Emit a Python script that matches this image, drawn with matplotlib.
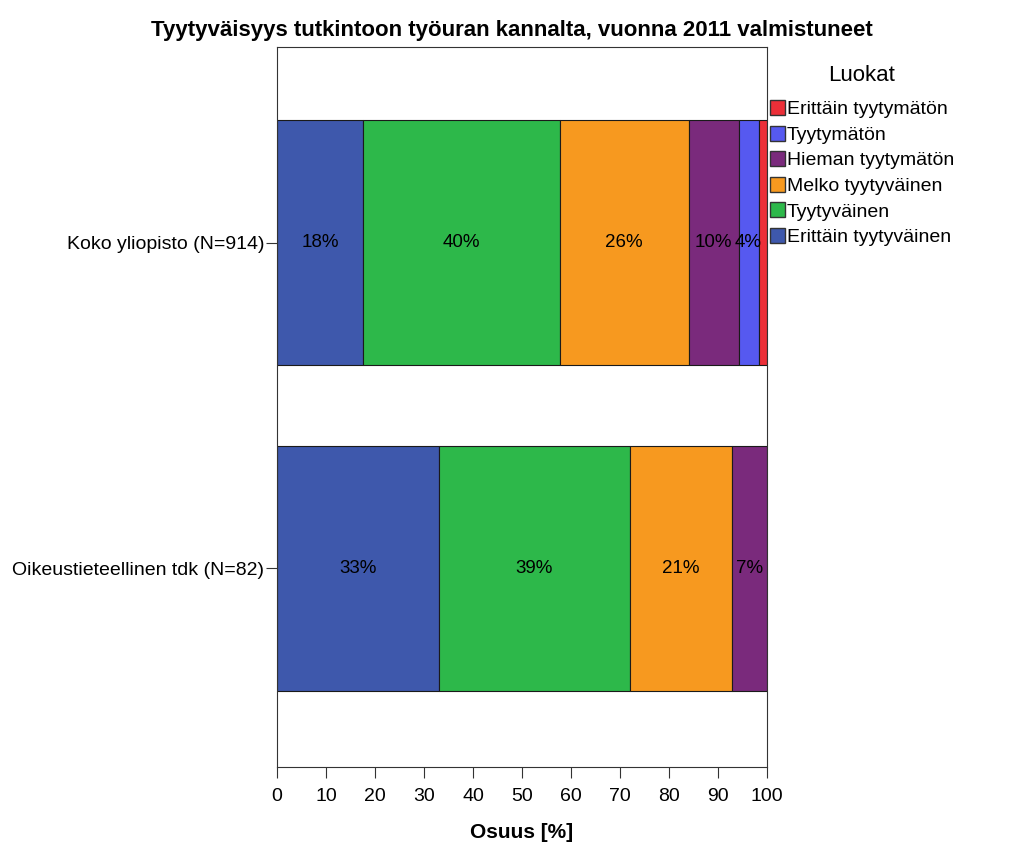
import matplotlib
matplotlib.use("Agg")
import matplotlib.pyplot as plt
from matplotlib.patches import Patch

plt.rcParams['font.family'] = ['Liberation Sans', 'DejaVu Sans']

# Data
groups = ["Koko yliopisto (N=914)", "Oikeustieteellinen tdk (N=82)"]
categories = ["Erittäin tyytyväinen", "Tyytyväinen", "Melko tyytyväinen",
              "Hieman tyytymätön", "Tyytymätön", "Erittäin tyytymätön"]
colors = ["#3E58AC", "#2DB84A", "#F7991F", "#7A2A7C", "#5659F0", "#EC2F38"]
values = {
    "Koko yliopisto (N=914)": [17.6, 40.1, 26.3, 10.2, 4.1, 1.7],
    "Oikeustieteellinen tdk (N=82)": [33.0, 39.0, 20.8, 7.2, 0.0, 0.0],
}

fig = plt.figure(figsize=(10.24, 8.58), dpi=100)
ax = fig.add_axes([0.2705, 0.106, 0.4785, 0.839])

for i, g in enumerate(groups):
    left = 0
    for j, v in enumerate(values[g]):
        if v <= 0:
            continue
        ax.barh(i, v, left=left, height=0.75, color=colors[j],
                edgecolor="#1a1a1a", linewidth=0.8)
        if v >= 3:
            ax.text(left + v / 2, i, f"{v:.0f}%", ha="center", va="center",
                    fontsize=13.5, color="black")
        left += v

ax.set_xlim(0, 100)
ax.set_ylim(1.61, -0.6)
ax.set_xticks(range(0, 101, 10))
ax.set_yticks(range(len(groups)))
ax.set_yticklabels(groups)
ax.tick_params(axis="x", labelsize=14, length=8, pad=7, color="#333333")
ax.tick_params(axis="y", labelsize=14, length=8, pad=1, color="#333333")
ax.set_xlabel("Osuus [%]", fontsize=15, fontweight="bold", labelpad=13)
for s in ax.spines.values():
    s.set_color("#333333")

fig.text(0.5, 0.964, "Tyytyväisyys tutkintoon työuran kannalta, vuonna 2011 valmistuneet",
         ha="center", va="center", fontsize=16, fontweight="bold")

handles = [Patch(facecolor=colors[j], edgecolor="#333333", label=categories[j])
           for j in reversed(range(len(categories)))]
leg = fig.legend(handles=handles, title="Luokat", loc="upper left",
                 bbox_to_anchor=(0.7515, 0.924), frameon=False, fontsize=14,
                 title_fontsize=16, handlelength=0.8, handleheight=0.8,
                 handletextpad=0.1, labelspacing=0.38, borderaxespad=0,
                 borderpad=0)
leg._legend_box.sep = 10

fig.savefig("out.png", dpi=100)
